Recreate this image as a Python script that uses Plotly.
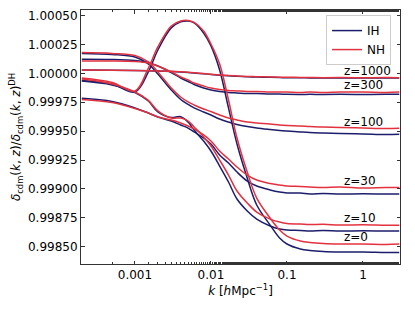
import plotly.graph_objects as go

# wavenumbers k [h/Mpc]
k = [2e-4, 5e-4, 1e-3, 1.5e-3, 2e-3, 3e-3, 4e-3, 5e-3, 6e-3, 8e-3, 0.01, 0.013, 0.017,
     0.022, 0.03, 0.04, 0.06, 0.08, 0.1, 0.15, 0.2, 0.3, 0.5, 1, 2, 3]

# deviations of the ratio from 1, in units of 1e-5
z1000_IH = [3.0, 2.8, 2.5, 2.2, 2.0, 1.6, 1.2, 0.8, 0.4, -0.3, -0.9, -1.6, -2.1, -2.5, -2.9, -3.1, -3.4, -3.6, -3.7, -3.8, -3.9, -4.0, -3.9, -4.0, -3.9, -4.0]
z1000_NH = [3.0, 2.8, 2.6, 2.3, 2.1, 1.8, 1.4, 1.0, 0.6, -0.1, -0.7, -1.4, -1.9, -2.2, -2.6, -2.8, -3.1, -3.3, -3.3, -3.5, -3.6, -3.7, -3.6, -3.7, -3.6, -3.7]
z300_IH = [12.3, 12.1, 11.2, 9.5, 6.4, 0.8, -4.0, -7.0, -9.6, -12.6, -14.3, -15.6, -16.5, -16.9, -17.4, -17.4, -17.8, -17.8, -18.1, -18.2, -18.1, -18.2, -18.1, -18.2, -18.1, -18.1]
z300_NH = [10.8, 10.8, 10.3, 9.0, 6.4, 1.3, -3.1, -5.7, -8.3, -10.9, -12.6, -13.9, -14.8, -15.2, -15.6, -15.6, -16.1, -16.1, -16.1, -16.5, -16.1, -16.5, -16.1, -16.1, -16.5, -16.1]
z100_IH = [17.3, 16.4, 14.2, 8.2, -0.5, -14.3, -22.6, -26.9, -29.9, -33.4, -36.0, -39.5, -42.1, -44.2, -46.0, -47.3, -48.6, -49.4, -49.9, -50.7, -51.2, -51.6, -52.0, -52.4, -52.9, -52.7]
z100_NH = [18.0, 17.3, 15.5, 9.9, 1.3, -12.6, -20.4, -24.7, -27.3, -30.8, -33.0, -36.0, -38.6, -40.3, -42.1, -42.9, -43.8, -44.7, -45.1, -45.5, -46.0, -46.4, -46.8, -47.3, -47.7, -47.5]
z30_IH = [-21.5, -24.3, -29.9, -34.3, -37.7, -41.2, -44.7, -47.3, -50.7, -55.9, -61.1, -70.6, -77.6, -85.4, -93.2, -97.5, -100.9, -102.7, -103.5, -103.5, -104.4, -104.0, -104.4, -104.2, -104.4, -104.4]
z30_NH = [-22.6, -25.2, -30.4, -34.3, -37.7, -40.3, -42.9, -45.5, -48.1, -53.3, -58.5, -67.2, -74.1, -81.0, -88.0, -92.3, -95.3, -96.6, -97.5, -97.9, -98.3, -98.8, -98.3, -99.2, -98.8, -98.8]
z10_IH = [-6.6, -10.0, -16.5, -23.9, -33.4, -38.2, -37.5, -42.1, -49.0, -58.5, -67.2, -80.2, -94.0, -108.7, -119.1, -126.1, -132.1, -134.7, -135.6, -136.0, -136.5, -136.0, -136.5, -136.3, -136.5, -136.5]
z10_NH = [-4.8, -9.1, -16.1, -23.4, -32.5, -38.6, -38.6, -41.2, -46.4, -55.0, -62.8, -75.0, -88.0, -101.8, -112.2, -120.0, -126.1, -128.7, -130.0, -130.4, -130.8, -130.6, -131.3, -131.1, -131.5, -131.5]
z0_IH = [-6.1, -9.1, -16.1, 1.3, 20.3, 39.4, 44.6, 45.4, 43.7, 35.0, 23.8, 3.0, -29.9, -61.1, -90.6, -113.9, -131.3, -142.5, -147.7, -152.0, -153.3, -154.2, -154.6, -154.6, -155.1, -155.1]
z0_NH = [-4.0, -7.9, -15.2, 4.7, 22.9, 41.1, 45.4, 45.9, 44.1, 36.8, 25.5, 8.2, -23.0, -55.9, -85.4, -107.9, -125.2, -135.6, -140.8, -145.1, -146.4, -147.3, -147.7, -147.7, -148.1, -147.7]

z_labels = ["z=1000", "z=300", "z=100", "z=30", "z=10", "z=0"]
z_label_y = [1.000024, 0.999897, 0.999582, 0.999069, 0.998746, 0.998581]
series_IH = [z1000_IH, z300_IH, z100_IH, z30_IH, z10_IH, z0_IH]
series_NH = [z1000_NH, z300_NH, z100_NH, z30_NH, z10_NH, z0_NH]

y_ticks = [0.9985, 0.99875, 0.999, 0.99925, 0.9995, 0.99975, 1.0, 1.00025, 1.0005]
x_ticks = [0.001, 0.01, 0.1, 1]
x_ticktext = ["0.001", "0.01", "0.1", "1"]

C_IH = "#1d1e6b"
C_NH = "#e3323f"
FONT = "DejaVu Sans"

fig = go.Figure()
for i in range(len(z_labels)):
    fig.add_trace(go.Scatter(x=k, y=[1 + d * 1e-5 for d in series_IH[i]], mode="lines",
                             line=dict(color=C_IH, width=1.5, shape="spline"),
                             name="IH", legendgroup="IH", showlegend=(i == 0)))
for i in range(len(z_labels)):
    fig.add_trace(go.Scatter(x=k, y=[1 + d * 1e-5 for d in series_NH[i]], mode="lines",
                             line=dict(color=C_NH, width=1.5, shape="spline"),
                             name="NH", legendgroup="NH", showlegend=(i == 0)))

for lab, yy in zip(z_labels, z_label_y):
    fig.add_annotation(x=-0.276, y=yy, xref="x", yref="y", text=lab, showarrow=False,
                       xanchor="left", yanchor="middle", font=dict(size=12, color="black", family=FONT))

axis_common = dict(showline=True, linecolor="#333", linewidth=1, mirror="allticks",
                   ticks="inside", tickcolor="#333", showgrid=False, zeroline=False,
                   automargin=False,
                   tickfont=dict(size=12, color="black", family=FONT))

fig.update_xaxes(type="log", range=[-3.71, 0.487], tickvals=x_ticks, ticktext=x_ticktext,
                 ticklen=3.5,
                 minor=dict(ticks="inside", ticklen=2, tickcolor="#333", showgrid=False),
                 title=dict(text="<i>k</i> [<i>h</i>Mpc<sup>−1</sup>]", standoff=4,
                            font=dict(size=12, color="black", family=FONT)),
                 **axis_common)
fig.update_yaxes(range=[0.99835, 1.000549], tickvals=y_ticks, tickformat=".5f", ticklen=3.5,
                 title=dict(text="<i>δ</i><sub>cdm</sub>(<i>k</i>, <i>z</i>)/<i>δ</i><sub>cdm</sub>(<i>k</i>, <i>z</i>)<sup>DH</sup>",
                            standoff=4, font=dict(size=12, color="black", family=FONT)),
                 **axis_common)

fig.update_layout(width=415, height=311, margin=dict(l=81, r=15, t=10, b=47),
                  plot_bgcolor="white", paper_bgcolor="white",
                  font=dict(family=FONT, size=12, color="black"),
                  legend=dict(x=0.972, y=0.98, xanchor="right", yanchor="top",
                              bordercolor="#cccccc", borderwidth=1, bgcolor="rgba(255,255,255,0.8)",
                              itemwidth=30, font=dict(size=12, family=FONT), tracegroupgap=0))

fig.write_html("out.html", config={"displayModeBar": False},
               post_script="document.body.style.margin='0';document.body.style.padding='0';")
